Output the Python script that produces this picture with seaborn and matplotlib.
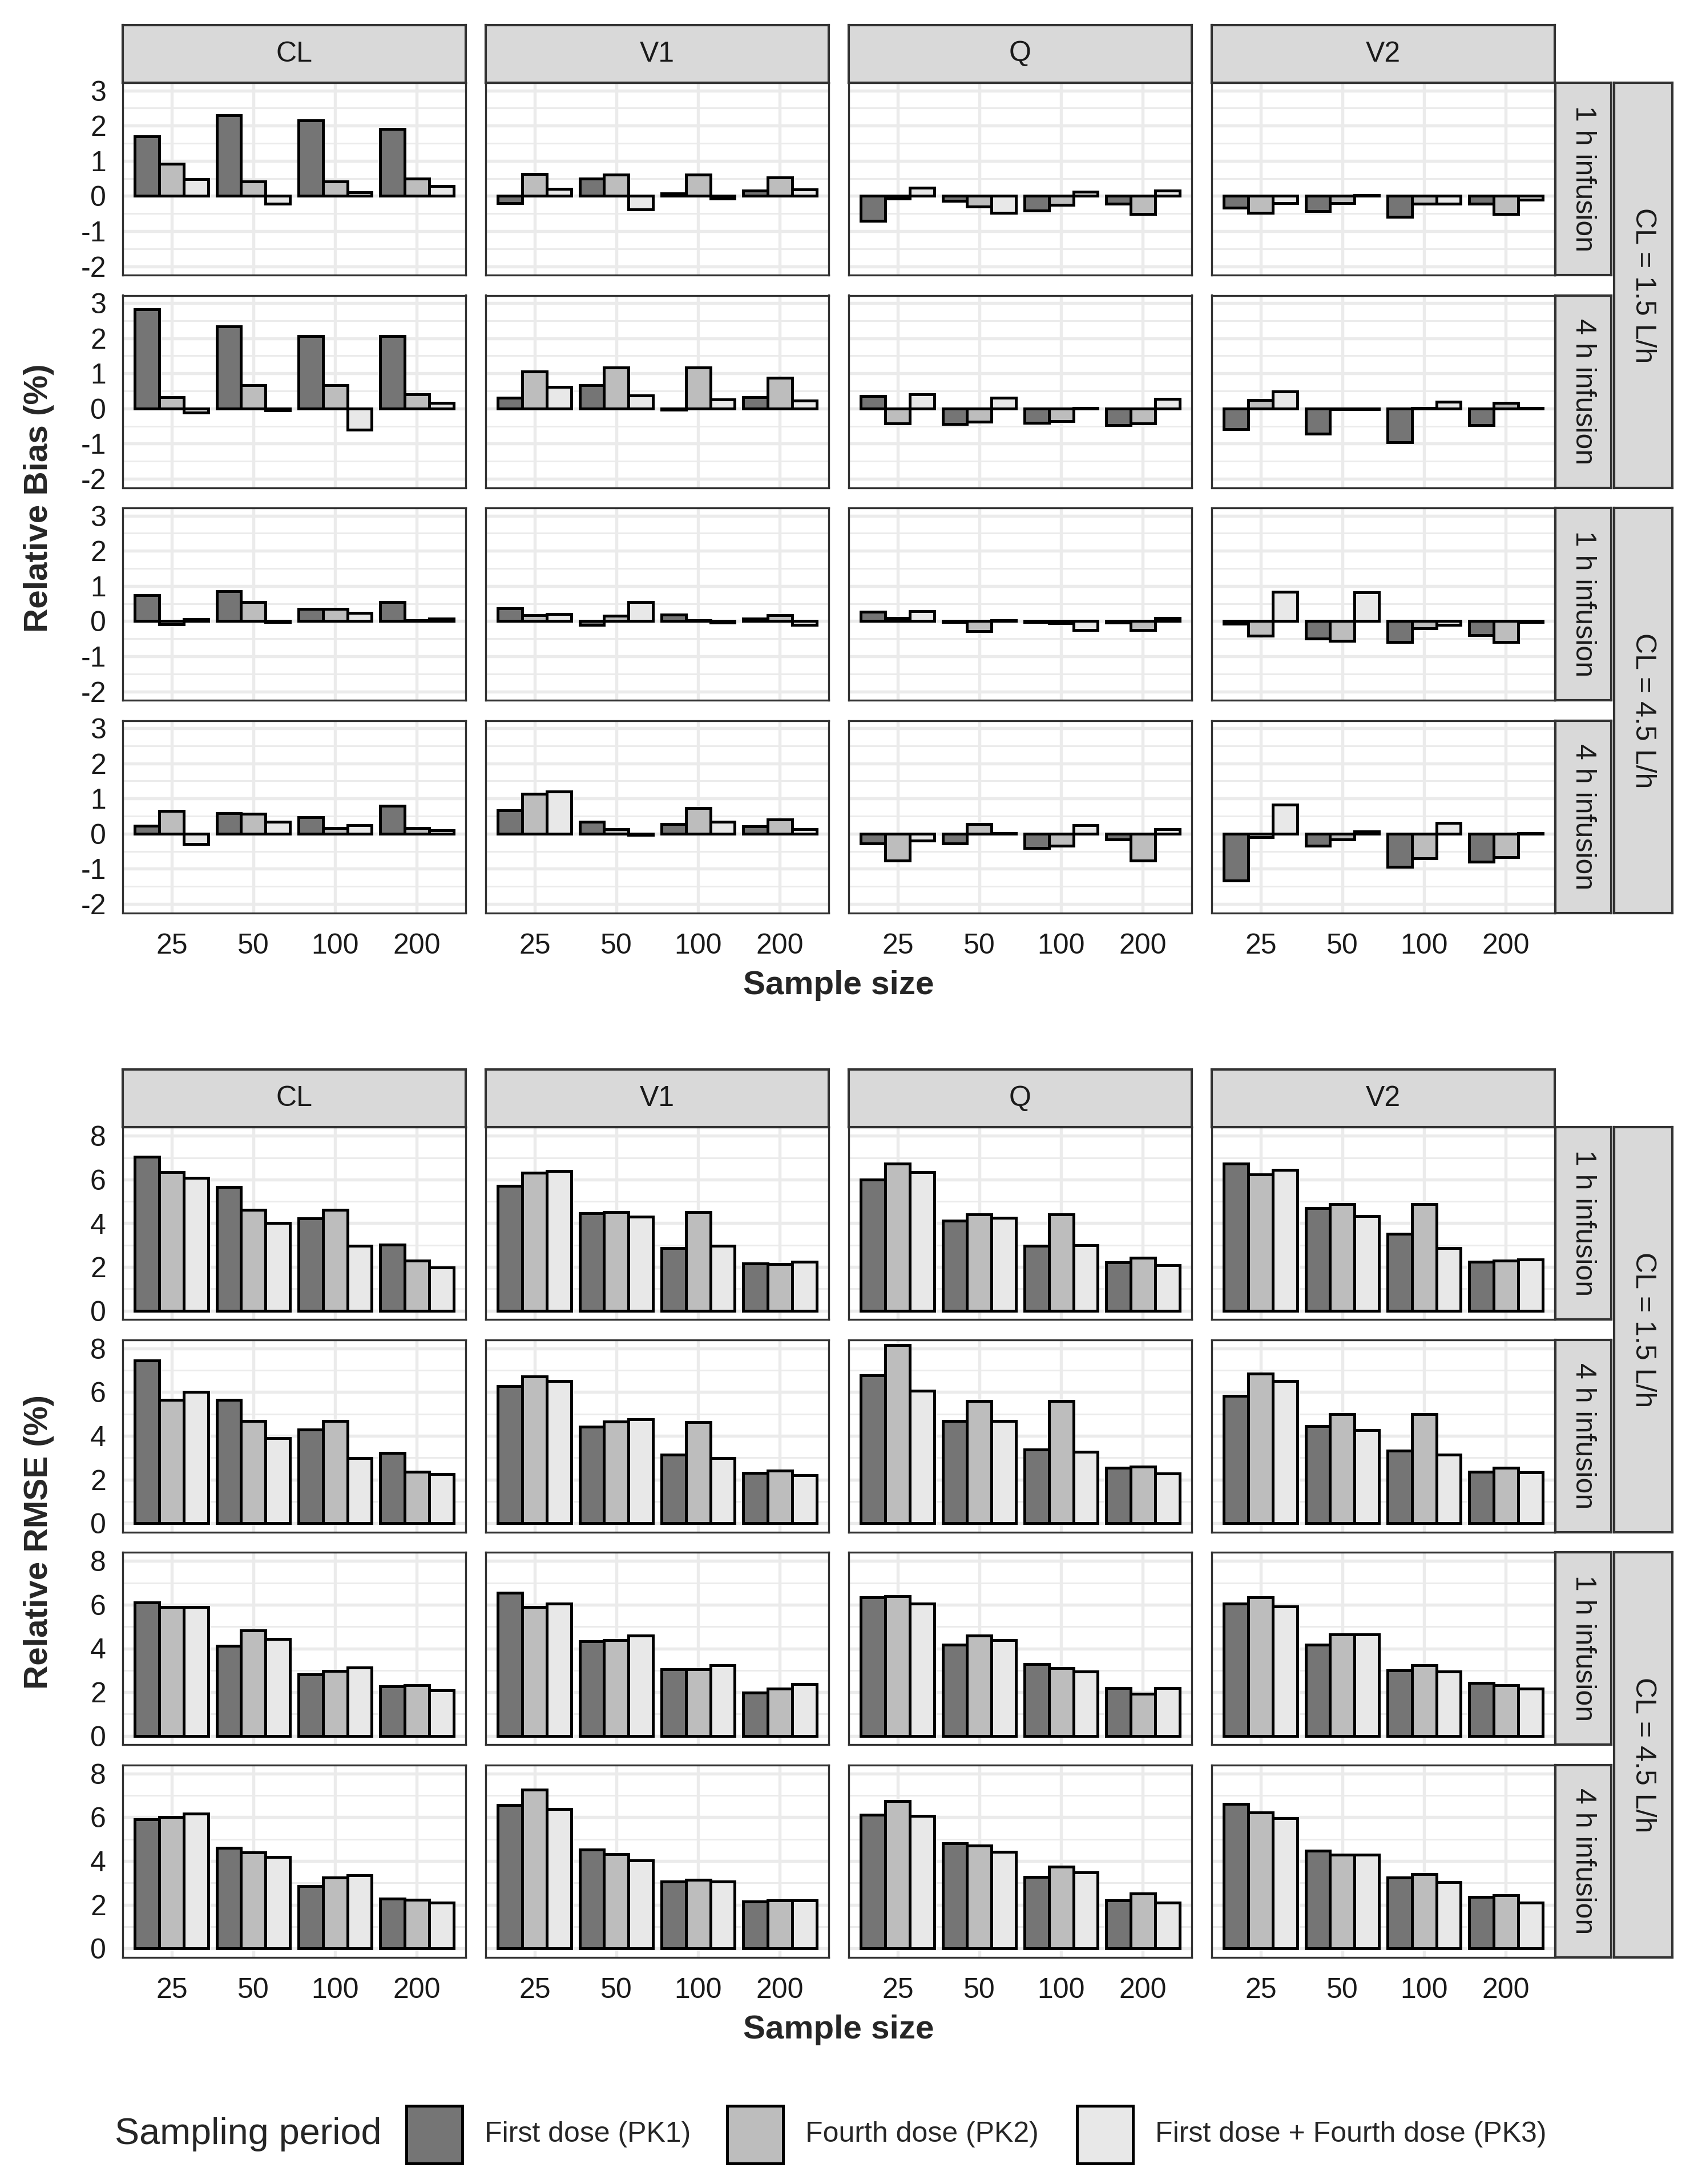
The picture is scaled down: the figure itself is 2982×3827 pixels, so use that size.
import matplotlib
matplotlib.use('Agg')
import numpy as np
import pandas as pd
import seaborn as sns
import matplotlib.pyplot as plt
from matplotlib.patches import Rectangle

sns.set_theme(style='white')
plt.rcParams['font.family'] = ['Liberation Sans', 'DejaVu Sans']
plt.rcParams['axes.unicode_minus'] = False

# categories
sizes = ['25', '50', '100', '200']
periods = ['First dose (PK1)', 'Fourth dose (PK2)', 'First dose + Fourth dose (PK3)']
params = ['CL', 'V1', 'Q', 'V2']
infusions = ['1 h infusion', '4 h infusion']
clearances = ['CL = 1.5 L/h', 'CL = 4.5 L/h']
period_colors = ['#757575', '#bdbdbd', '#e8e8e8']

# values per panel row: one list per parameter, ordered size x period (PK1, PK2, PK3)
bias_cl15_1h = [
    [1.70, 0.92, 0.47, 2.30, 0.42, -0.22, 2.15, 0.42, 0.10, 1.90, 0.50, 0.28],
    [-0.20, 0.63, 0.20, 0.50, 0.60, -0.38, 0.07, 0.60, -0.08, 0.15, 0.53, 0.18],
    [-0.70, -0.07, 0.23, -0.14, -0.30, -0.48, -0.41, -0.26, 0.12, -0.22, -0.52, 0.16],
    [-0.33, -0.48, -0.20, -0.44, -0.20, 0.02, -0.59, -0.22, -0.22, -0.22, -0.51, -0.10],
]
bias_cl15_4h = [
    [2.82, 0.33, -0.12, 2.34, 0.66, -0.05, 2.06, 0.66, -0.60, 2.06, 0.41, 0.16],
    [0.30, 1.05, 0.62, 0.67, 1.16, 0.37, -0.03, 1.16, 0.26, 0.32, 0.87, 0.23],
    [0.35, -0.42, 0.41, -0.44, -0.37, 0.31, -0.41, -0.36, 0.02, -0.47, -0.42, 0.27],
    [-0.58, 0.24, 0.49, -0.71, -0.02, -0.02, -0.96, 0.02, 0.19, -0.47, 0.16, 0.02],
]
bias_cl45_1h = [
    [0.74, -0.09, 0.06, 0.85, 0.54, -0.03, 0.34, 0.34, 0.23, 0.54, 0.03, 0.07],
    [0.36, 0.17, 0.20, -0.11, 0.16, 0.54, 0.19, 0.02, -0.04, 0.07, 0.17, -0.11],
    [0.26, 0.08, 0.28, -0.02, -0.28, 0.02, -0.03, -0.06, -0.25, -0.05, -0.25, 0.08],
    [-0.08, -0.42, 0.84, -0.50, -0.57, 0.82, -0.60, -0.21, -0.10, -0.40, -0.60, -0.02],
]
bias_cl45_4h = [
    [0.23, 0.65, -0.29, 0.58, 0.56, 0.34, 0.47, 0.16, 0.24, 0.80, 0.16, 0.10],
    [0.66, 1.13, 1.20, 0.34, 0.13, -0.04, 0.27, 0.73, 0.34, 0.21, 0.41, 0.13],
    [-0.28, -0.76, -0.19, -0.27, 0.27, 0.02, -0.41, -0.34, 0.24, -0.16, -0.76, 0.13],
    [-1.33, -0.10, 0.83, -0.34, -0.16, 0.06, -0.94, -0.70, 0.31, -0.80, -0.66, 0.02],
]
rmse_cl15_1h = [
    [7.05, 6.33, 6.08, 5.65, 4.61, 4.00, 4.23, 4.61, 2.97, 3.03, 2.29, 1.97],
    [5.70, 6.30, 6.40, 4.46, 4.51, 4.29, 2.86, 4.51, 2.96, 2.15, 2.12, 2.25],
    [6.00, 6.73, 6.34, 4.11, 4.40, 4.25, 2.96, 4.40, 2.99, 2.21, 2.41, 2.08],
    [6.72, 6.24, 6.43, 4.68, 4.87, 4.33, 3.51, 4.87, 2.86, 2.23, 2.29, 2.35],
]
rmse_cl15_4h = [
    [7.45, 5.64, 6.02, 5.64, 4.68, 3.89, 4.28, 4.68, 2.98, 3.21, 2.35, 2.26],
    [6.28, 6.72, 6.50, 4.41, 4.64, 4.77, 3.15, 4.62, 2.98, 2.31, 2.42, 2.20],
    [6.78, 8.14, 6.07, 4.68, 5.59, 4.68, 3.38, 5.59, 3.28, 2.53, 2.59, 2.27],
    [5.83, 6.84, 6.51, 4.45, 4.98, 4.25, 3.32, 4.98, 3.15, 2.35, 2.55, 2.33],
]
rmse_cl45_1h = [
    [6.09, 5.90, 5.90, 4.11, 4.81, 4.44, 2.81, 2.97, 3.12, 2.26, 2.31, 2.08],
    [6.55, 5.90, 6.05, 4.33, 4.39, 4.59, 3.04, 3.04, 3.23, 1.98, 2.15, 2.37],
    [6.33, 6.38, 6.05, 4.18, 4.58, 4.39, 3.27, 3.10, 2.93, 2.19, 1.93, 2.19],
    [6.05, 6.33, 5.93, 4.18, 4.63, 4.63, 3.00, 3.23, 2.93, 2.43, 2.31, 2.15],
]
rmse_cl45_4h = [
    [5.90, 6.01, 6.17, 4.59, 4.38, 4.19, 2.84, 3.24, 3.34, 2.28, 2.22, 2.10],
    [6.57, 7.27, 6.38, 4.53, 4.32, 4.03, 3.05, 3.13, 3.05, 2.15, 2.21, 2.21],
    [6.11, 6.73, 6.06, 4.81, 4.70, 4.42, 3.28, 3.74, 3.47, 2.21, 2.51, 2.09],
    [6.60, 6.21, 5.95, 4.47, 4.30, 4.30, 3.24, 3.41, 3.04, 2.36, 2.44, 2.09],
]

bias_rows = [bias_cl15_1h, bias_cl15_4h, bias_cl45_1h, bias_cl45_4h]
rmse_rows = [rmse_cl15_1h, rmse_cl15_4h, rmse_cl45_1h, rmse_cl45_4h]

W, H = 2982, 3827
fig = plt.figure(figsize=(W / 300, H / 300), dpi=300)
fig.patch.set_facecolor('white')


def px_axes(x, y, w, h):
    return fig.add_axes([x / W, 1 - (y + h) / H, w / W, h / H])


def panel_frame(vals):
    return pd.DataFrame({
        'size': np.repeat(sizes, len(periods)),
        'period': np.tile(periods, len(sizes)),
        'value': vals,
    })


def strip(x, y, w, h, label, rot=0):
    sax = px_axes(x, y, w, h)
    sax.set_facecolor('#d9d9d9')
    sax.set_xticks([])
    sax.set_yticks([])
    for s in sax.spines.values():
        s.set_color('#333333')
        s.set_linewidth(1.0)
    sax.text(0.5, 0.5, label, ha='center', va='center', rotation=rot,
             fontsize=12, color='#1a1a1a', transform=sax.transAxes)


LEFT0, PW, PSTEP = 215, 601, 636
PH, RSTEP = 337, 372.5
STRIP = 101


def draw_block(rows, top, ylim, yticks, yminor, ylabel):
    right = LEFT0 + PSTEP * 3 + PW
    for j, p in enumerate(params):
        strip(LEFT0 + PSTEP * j, top - STRIP, PW, STRIP, p)
    for i, row in enumerate(rows):
        ytop = top + RSTEP * i
        strip(right + 1, ytop, 98, PH, infusions[i % 2], rot=270)
        for j, vals in enumerate(row):
            ax = px_axes(LEFT0 + PSTEP * j, ytop, PW, PH)
            sns.barplot(data=panel_frame(vals), x='size', y='value', hue='period',
                        order=sizes, hue_order=periods, palette=period_colors,
                        saturation=1, width=0.9, gap=0, edgecolor='black',
                        linewidth=1.2, errorbar=None, legend=False, ax=ax)
            ax.set_xlim(-0.6, 3.6)
            ax.set_ylim(*ylim)
            ax.set_xlabel('')
            ax.set_ylabel('')
            ax.set_facecolor('white')
            ax.set_axisbelow(True)
            ax.set_yticks(yticks, labels=[str(t) for t in yticks])
            ax.set_yticks(yminor, minor=True)
            ax.grid(True, which='major', axis='both', color='#ebebeb', linewidth=1.3)
            ax.grid(True, which='minor', axis='y', color='#ebebeb', linewidth=0.7)
            ax.tick_params(which='minor', length=0)
            for s in ax.spines.values():
                s.set_color('#333333')
                s.set_linewidth(0.8)
            if j == 0:
                ax.tick_params(axis='y', which='major', length=4.5, width=1.0,
                               color='#333333', labelsize=12, labelcolor='#1a1a1a', pad=2.5)
            else:
                ax.tick_params(axis='y', which='major', length=0, labelleft=False)
            if i == len(rows) - 1:
                ax.tick_params(axis='x', which='major', length=4, width=1.0,
                               color='#333333', labelsize=12, labelcolor='#1a1a1a', pad=4.5)
            else:
                ax.tick_params(axis='x', which='major', length=0, labelbottom=False)
    # outer clearance strips span two rows each
    for k, cl in enumerate(clearances):
        y0 = top + RSTEP * 2 * k
        strip(right + 104, y0, 102, RSTEP + PH, cl, rot=270)
    bottom = top + RSTEP * 3 + PH
    fig.text((LEFT0 + right) / 2 / W, 1 - (bottom + 128) / H, 'Sample size',
             ha='center', va='center', fontsize=14, fontweight='bold')
    fig.text(68 / W, 1 - (top + bottom) / 2 / H, ylabel, ha='center', va='center',
             rotation=90, fontsize=14, fontweight='bold')


draw_block(bias_rows, 145, (-2.25, 3.22), [-2, -1, 0, 1, 2, 3],
           [-1.5, -0.5, 0.5, 1.5, 2.5], 'Relative Bias (%)')
draw_block(rmse_rows, 1975, (-0.4, 8.4), [0, 2, 4, 6, 8],
           [1, 3, 5, 7], 'Relative RMSE (%)')

# legend along the bottom
fig.text(201 / W, 1 - 3740 / H, 'Sampling period', ha='left', va='center', fontsize=15.5)
key_x = [712, 1274, 1887]
for kx, col, lab in zip(key_x, period_colors, periods):
    fig.patches.append(Rectangle((kx / W, 1 - 3791 / H), 98 / W, 101 / H,
                                 transform=fig.transFigure, facecolor=col,
                                 edgecolor='black', linewidth=1.2))
    fig.text((kx + 137) / W, 1 - 3740 / H, lab, ha='left', va='center', fontsize=12)

fig.savefig('out.png', dpi=300, facecolor='white')
